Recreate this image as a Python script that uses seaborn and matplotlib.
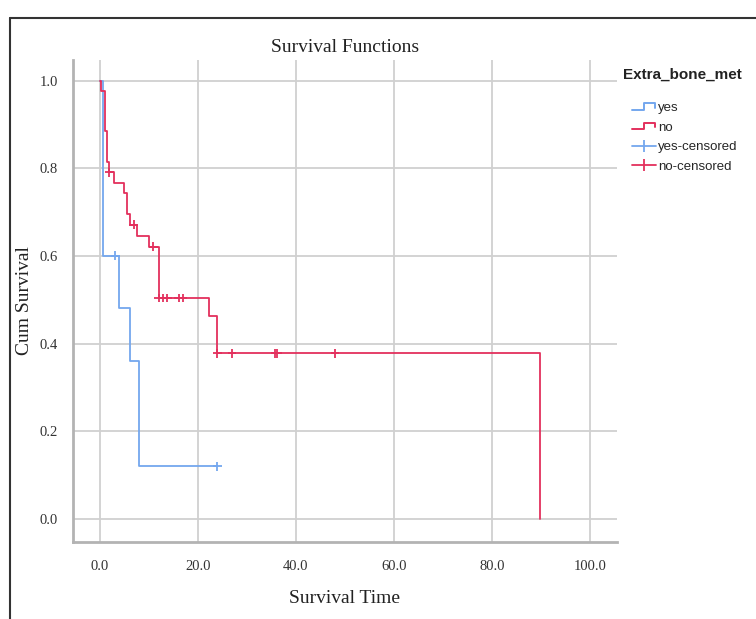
import matplotlib
matplotlib.use("Agg")
import matplotlib.pyplot as plt
import seaborn as sns
import pandas as pd
from matplotlib.lines import Line2D
from matplotlib.legend_handler import HandlerBase

# step curves (time, cumulative survival)
yes_time = [0.0, 0.6, 4.0, 6.1, 8.1, 24.0]
yes_surv = [1.0, 0.60, 0.48, 0.36, 0.12, 0.12]
no_time = [0.0, 0.2, 1.0, 1.5, 1.9, 3.0, 5.0, 5.5, 6.2, 7.6, 10.0, 12.0, 22.2, 24.0, 89.8]
no_surv = [1.0, 0.977, 0.884, 0.814, 0.791, 0.767, 0.743, 0.695, 0.671, 0.646, 0.621,
           0.504, 0.463, 0.378, 0.0]

# censored observations
yes_cens_time = [3.2, 24.0]
yes_cens_surv = [0.60, 0.12]
no_cens_time = [2.0, 6.9, 10.9, 12.0, 13.0, 13.8, 16.1, 16.9, 24.0, 27.0, 35.8, 36.2, 48.0]
no_cens_surv = [0.791, 0.671, 0.621, 0.504, 0.504, 0.504, 0.504, 0.504,
                0.378, 0.378, 0.378, 0.378, 0.378]

x_ticks = [0, 20, 40, 60, 80, 100]
x_tick_labels = ["0.0", "20.0", "40.0", "60.0", "80.0", "100.0"]
y_ticks = [0.0, 0.2, 0.4, 0.6, 0.8, 1.0]
y_tick_labels = ["0.0", "0.2", "0.4", "0.6", "0.8", "1.0"]

groups = ["yes", "no"]
colors = {"yes": "#74a7ee", "no": "#e3305d"}

curves = pd.DataFrame({
    "time": yes_time + no_time,
    "surv": yes_surv + no_surv,
    "group": ["yes"] * len(yes_time) + ["no"] * len(no_time),
})
censored = pd.DataFrame({
    "time": yes_cens_time + no_cens_time,
    "surv": yes_cens_surv + no_cens_surv,
    "group": ["yes"] * len(yes_cens_time) + ["no"] * len(no_cens_time),
})


class StepHandler(HandlerBase):
    """Draw a small step shape as the legend key."""

    def create_artists(self, legend, orig_handle, xdescent, ydescent,
                       width, height, fontsize, trans):
        x0, y0 = -xdescent, -ydescent
        xs = [x0, x0 + width * 0.5, x0 + width * 0.5, x0 + width * 0.95, x0 + width * 0.95]
        ys = [y0 + height * 0.15, y0 + height * 0.15, y0 + height * 0.85,
              y0 + height * 0.85, y0 + height * 0.4]
        line = Line2D(xs, ys, color=orig_handle.get_color(), lw=1.4, transform=trans)
        return [line]


sns.set_theme(style="white")

fig = plt.figure(figsize=(7.56, 6.19), dpi=100)
ax = fig.add_axes([72.7 / 756, 1 - 542 / 619, (617 - 72.7) / 756, (542 - 60) / 619])

sns.lineplot(data=curves, x="time", y="surv", hue="group", hue_order=groups,
             palette=colors, estimator=None, sort=False, drawstyle="steps-post",
             linewidth=1.3, legend=False, ax=ax)
sns.scatterplot(data=censored, x="time", y="surv", hue="group", hue_order=groups,
                palette=colors, marker="+", s=40, linewidth=1.3, legend=False, ax=ax)

ax.set_xlim(-5.5, 105.5)
ax.set_ylim(-0.053, 1.047)
ax.set_xticks(x_ticks)
ax.set_xticklabels(x_tick_labels, family="Liberation Serif", fontsize=10.5, color="#333333")
ax.set_yticks(y_ticks)
ax.set_yticklabels(y_tick_labels, family="Liberation Serif", fontsize=10.5, color="#333333")
ax.tick_params(axis="x", length=0, pad=13)
ax.tick_params(axis="y", length=0, pad=10.5)
ax.grid(True, color="#d0d0d0", linewidth=1.3)
ax.set_axisbelow(True)
for side in ["top", "right"]:
    ax.spines[side].set_visible(False)
for side in ["left", "bottom"]:
    ax.spines[side].set_color("#b3b3b3")
    ax.spines[side].set_linewidth(2)

ax.set_title("Survival Functions", family="Liberation Serif", fontsize=14,
             color="#222222", pad=6)
ax.set_xlabel("Survival Time", family="Liberation Serif", fontsize=14,
              color="#222222", labelpad=12)
ax.set_ylabel("Cum Survival", family="Liberation Serif", fontsize=14,
              color="#222222", labelpad=5)

# legend
fig.text(623 / 756, 1 - 75 / 619, "Extra_bone_met", fontsize=11, fontweight="bold",
         family="Liberation Sans", color="#222222", ha="left", va="center")
handles = [
    Line2D([], [], color=colors["yes"]),
    Line2D([], [], color=colors["no"]),
    Line2D([], [], color=colors["yes"], marker="|", markersize=8, lw=1.3, markeredgewidth=1.3),
    Line2D([], [], color=colors["no"], marker="|", markersize=8, lw=1.3, markeredgewidth=1.3),
]
labels = ["yes", "no", "yes-censored", "no-censored"]
fig.legend(handles, labels, loc="upper left", bbox_to_anchor=(632 / 756, 1 - 102 / 619),
           frameon=False, borderpad=0, borderaxespad=0, handlelength=1.85,
           handletextpad=0.1, labelspacing=0.55,
           prop={"family": "Liberation Sans", "size": 9.5},
           handler_map={handles[0]: StepHandler(), handles[1]: StepHandler()})

# screenshot frame
fig.add_artist(Line2D([10 / 756, 10 / 756], [0, 1 - 18 / 619], color="#333333", lw=1.5))
fig.add_artist(Line2D([10 / 756, 1], [1 - 18 / 619, 1 - 18 / 619], color="#333333", lw=1.5))

fig.savefig("out.png", dpi=100)
plt.close(fig)
